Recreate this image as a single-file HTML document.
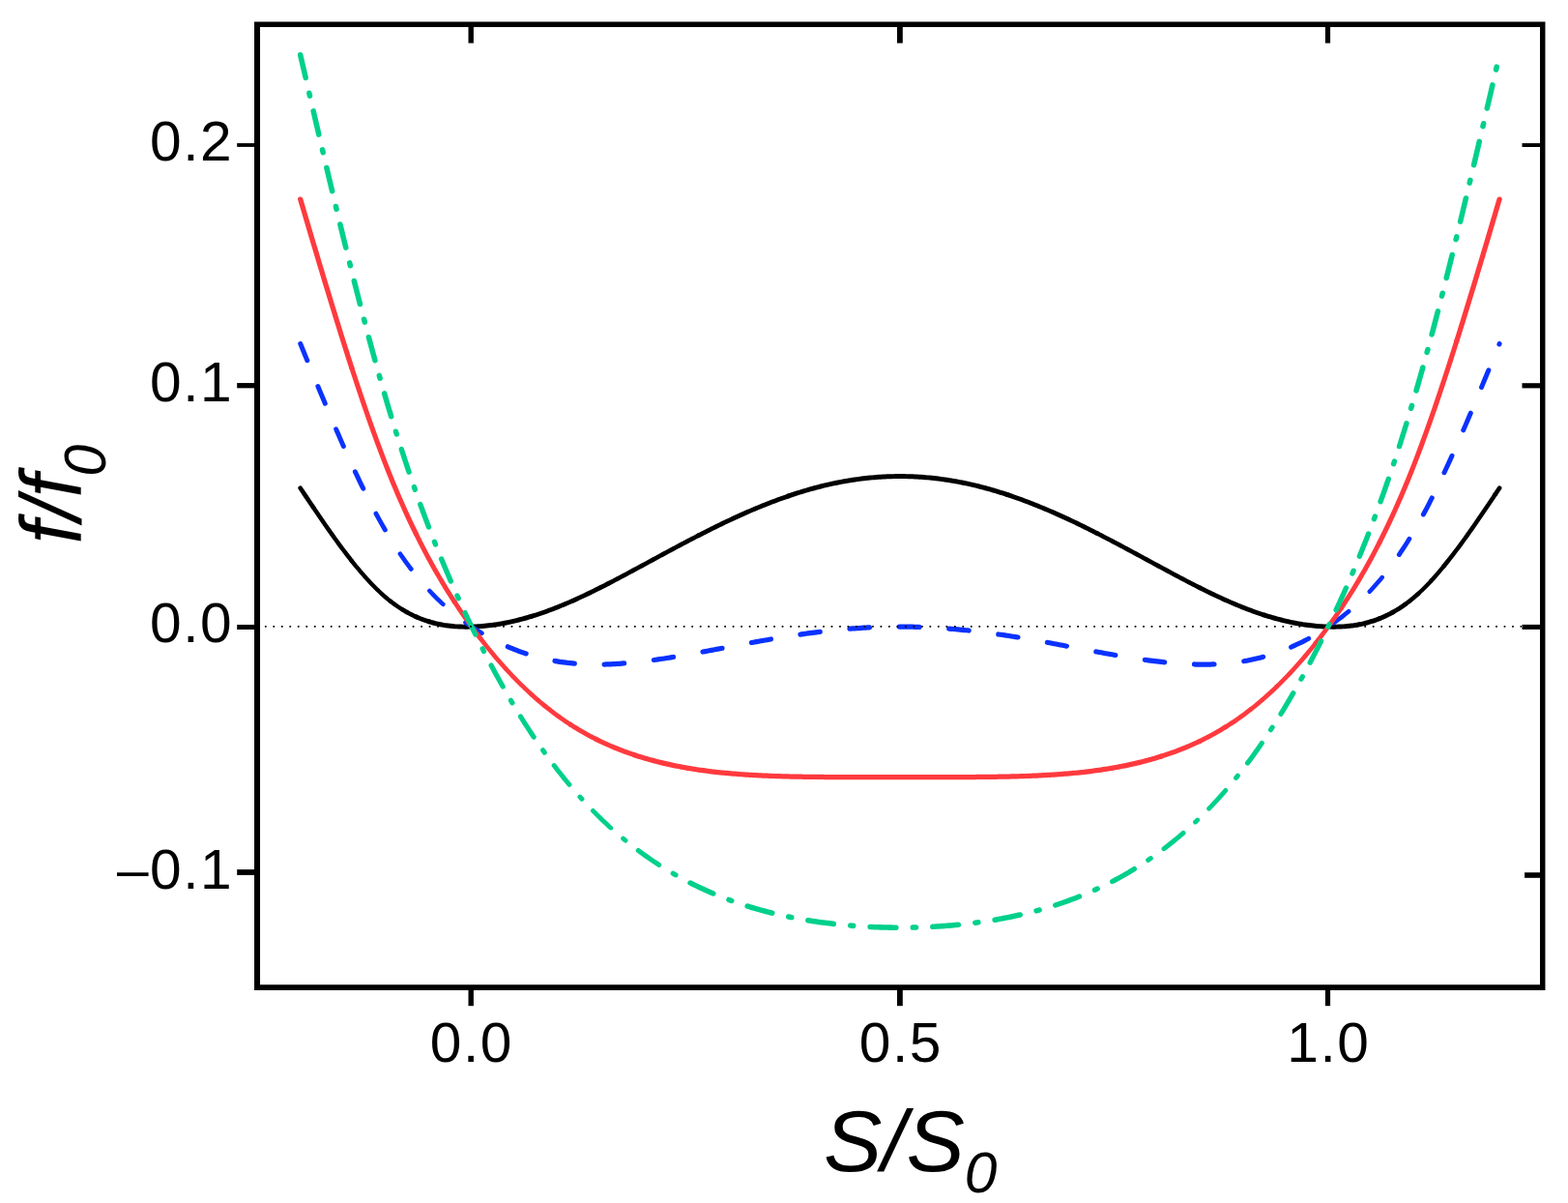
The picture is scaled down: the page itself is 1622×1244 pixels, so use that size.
<!DOCTYPE html>
<html lang="en"><head><meta charset="utf-8"><title>f/f0 versus S/S0</title>
<style>
html,body{margin:0;padding:0;background:#fff;}
body{width:1622px;height:1244px;overflow:hidden;}
svg{display:block;}
text{font-family:"Liberation Sans",Arial,Helvetica,sans-serif;fill:#000;}
.tk{font-size:57.50px;letter-spacing:1.50px;}
.lab{font-style:italic;}
</style></head><body>
<svg width="1622" height="1244" viewBox="0 0 1622 1244" role="img" aria-label="f/f0 versus S/S0">
<rect x="0" y="0" width="1622" height="1244" fill="#fff"/>
<g fill="none" stroke="#000" stroke-linecap="round" stroke-linejoin="round">
<path stroke-width="4.20" d="M1466.93 614.09 L1469.14 612.04 L1471.36 609.93 L1473.58 607.75 L1475.79 605.50 L1478.01 603.20 L1480.22 600.84"/>
<path stroke-width="4.35" d="M363.86 580.02 L366.07 582.79 L368.29 585.52 L370.50 588.20 L372.72 590.83 L374.93 593.41 L377.15 595.94 M377.15 595.94 L379.36 598.42 L381.58 600.84 L383.79 603.20 L386.01 605.50 L388.22 607.75 L390.44 609.93 M390.44 609.93 L392.65 612.04 L394.87 614.09 L397.08 616.07 L399.30 617.99 L401.51 619.83 L403.73 621.60 M1480.22 600.84 L1482.43 598.42 L1484.65 595.94 L1486.87 593.41 L1489.08 590.83 L1491.30 588.20 L1493.51 585.52"/>
<path stroke-width="4.50" d="M323.99 524.53 L326.20 527.80 L328.42 531.06 L330.63 534.30 L332.85 537.53 L335.06 540.74 L337.28 543.93 M337.28 543.93 L339.50 547.10 L341.71 550.24 L343.92 553.36 L346.14 556.46 L348.36 559.52 L350.57 562.55 M350.57 562.55 L352.78 565.56 L355.00 568.52 L357.21 571.46 L359.43 574.35 L361.64 577.21 L363.86 580.02 M403.73 621.60 L405.94 623.30 L408.16 624.93 L410.38 626.50 L412.59 628.00 L414.80 629.43 L417.02 630.81 M1453.64 624.93 L1455.86 623.30 L1458.07 621.60 L1460.29 619.83 L1462.50 617.99 L1464.72 616.07 L1466.93 614.09 M1493.51 585.52 L1495.73 582.79 L1497.94 580.02 L1500.16 577.21 L1502.37 574.35 L1504.59 571.46 L1506.80 568.52 M1506.80 568.52 L1509.02 565.56 L1511.23 562.55 L1513.45 559.52 L1515.66 556.46 L1517.88 553.36 L1520.09 550.24 M1520.09 550.24 L1522.30 547.10 L1524.52 543.93 L1526.74 540.74 L1528.95 537.53 L1531.16 534.30 L1533.38 531.06 M1533.38 531.06 L1535.60 527.80 L1537.81 524.53 L1540.03 521.25 L1542.24 517.96 L1544.45 514.66 L1546.67 511.36"/>
<path stroke-width="4.65" d="M310.70 504.75 L312.91 508.05 L315.13 511.36 L317.34 514.66 L319.56 517.96 L321.77 521.25 L323.99 524.53 M417.02 630.81 L419.23 632.12 L421.45 633.36 L423.66 634.55 L425.88 635.68 L428.09 636.75 L430.31 637.77 M629.66 603.25 L631.88 602.10 L634.09 600.95 L636.30 599.79 L638.52 598.63 L640.73 597.46 L642.95 596.29 M642.95 596.29 L645.16 595.11 L647.38 593.93 L649.60 592.75 L651.81 591.56 L654.02 590.37 L656.24 589.17 M656.24 589.17 L658.45 587.98 L660.67 586.78 L662.88 585.59 L665.10 584.39 L667.32 583.19 L669.53 581.99 M669.53 581.99 L671.75 580.79 L673.96 579.59 L676.17 578.39 L678.39 577.19 L680.61 575.99 L682.82 574.80 M682.82 574.80 L685.03 573.60 L687.25 572.41 L689.46 571.21 L691.68 570.02 L693.89 568.83 L696.11 567.65 M696.11 567.65 L698.32 566.46 L700.54 565.28 L702.75 564.10 L704.97 562.93 L707.18 561.76 L709.40 560.59 M709.40 560.59 L711.62 559.43 L713.83 558.27 L716.04 557.11 L718.26 555.96 L720.48 554.81 L722.69 553.67 M1134.68 551.41 L1136.89 552.54 L1139.11 553.67 L1141.33 554.81 L1143.54 555.96 L1145.75 557.11 L1147.97 558.27 M1147.97 558.27 L1150.18 559.43 L1152.40 560.59 L1154.61 561.76 L1156.83 562.93 L1159.05 564.10 L1161.26 565.28 M1161.26 565.28 L1163.47 566.46 L1165.69 567.65 L1167.91 568.83 L1170.12 570.02 L1172.34 571.21 L1174.55 572.41 M1174.55 572.41 L1176.77 573.60 L1178.98 574.80 L1181.19 575.99 L1183.41 577.19 L1185.62 578.39 L1187.84 579.59 M1187.84 579.59 L1190.05 580.79 L1192.27 581.99 L1194.49 583.19 L1196.70 584.39 L1198.91 585.59 L1201.13 586.78 M1201.13 586.78 L1203.35 587.98 L1205.56 589.17 L1207.78 590.37 L1209.99 591.56 L1212.20 592.75 L1214.42 593.93 M1214.42 593.93 L1216.63 595.11 L1218.85 596.29 L1221.07 597.46 L1223.28 598.63 L1225.49 599.79 L1227.71 600.95 M1227.71 600.95 L1229.93 602.10 L1232.14 603.25 L1234.36 604.39 L1236.57 605.52 L1238.79 606.65 L1241.00 607.76 M1440.35 633.36 L1442.57 632.12 L1444.78 630.81 L1446.99 629.43 L1449.21 628.00 L1451.43 626.50 L1453.64 624.93 M1546.67 511.36 L1548.88 508.05 L1551.10 504.75"/>
<path stroke-width="4.80" d="M430.31 637.77 L432.52 638.73 L434.74 639.64 L436.95 640.49 L439.17 641.29 L441.38 642.04 L443.60 642.74 M549.92 637.31 L552.13 636.62 L554.35 635.92 L556.56 635.20 L558.78 634.46 L561.00 633.70 L563.21 632.93 M563.21 632.93 L565.42 632.14 L567.64 631.33 L569.85 630.51 L572.07 629.67 L574.28 628.81 L576.50 627.94 M576.50 627.94 L578.71 627.05 L580.93 626.15 L583.14 625.24 L585.36 624.30 L587.57 623.36 L589.79 622.40 M589.79 622.40 L592.00 621.43 L594.22 620.44 L596.43 619.45 L598.65 618.44 L600.87 617.42 L603.08 616.39 M603.08 616.39 L605.29 615.34 L607.51 614.29 L609.73 613.22 L611.94 612.15 L614.15 611.07 L616.37 609.97 M616.37 609.97 L618.59 608.87 L620.80 607.76 L623.01 606.65 L625.23 605.52 L627.44 604.39 L629.66 603.25 M722.69 553.67 L724.90 552.54 L727.12 551.41 L729.34 550.28 L731.55 549.16 L733.76 548.05 L735.98 546.94 M735.98 546.94 L738.19 545.84 L740.41 544.75 L742.62 543.66 L744.84 542.58 L747.05 541.51 L749.27 540.45 M749.27 540.45 L751.48 539.39 L753.70 538.34 L755.91 537.30 L758.13 536.27 L760.35 535.25 L762.56 534.24 M762.56 534.24 L764.77 533.23 L766.99 532.23 L769.20 531.25 L771.42 530.27 L773.63 529.30 L775.85 528.34 M775.85 528.34 L778.06 527.39 L780.28 526.45 L782.49 525.52 L784.71 524.61 L786.92 523.70 L789.14 522.80 M789.14 522.80 L791.36 521.91 L793.57 521.03 L795.78 520.17 L798.00 519.31 L800.21 518.47 L802.43 517.64 M802.43 517.64 L804.64 516.81 L806.86 516.00 L809.08 515.21 L811.29 514.42 L813.50 513.65 L815.72 512.89 M1041.65 511.40 L1043.86 512.14 L1046.08 512.89 L1048.30 513.65 L1050.51 514.42 L1052.72 515.21 L1054.94 516.00 M1054.94 516.00 L1057.16 516.81 L1059.37 517.64 L1061.59 518.47 L1063.80 519.31 L1066.02 520.17 L1068.23 521.03 M1068.23 521.03 L1070.44 521.91 L1072.66 522.80 L1074.88 523.70 L1077.09 524.61 L1079.30 525.52 L1081.52 526.45 M1081.52 526.45 L1083.74 527.39 L1085.95 528.34 L1088.16 529.30 L1090.38 530.27 L1092.60 531.25 L1094.81 532.23 M1094.81 532.23 L1097.03 533.23 L1099.24 534.24 L1101.45 535.25 L1103.67 536.27 L1105.88 537.30 L1108.10 538.34 M1108.10 538.34 L1110.32 539.39 L1112.53 540.45 L1114.74 541.51 L1116.96 542.58 L1119.17 543.66 L1121.39 544.75 M1121.39 544.75 L1123.61 545.84 L1125.82 546.94 L1128.03 548.05 L1130.25 549.16 L1132.47 550.28 L1134.68 551.41 M1241.00 607.76 L1243.22 608.87 L1245.43 609.97 L1247.64 611.07 L1249.86 612.15 L1252.08 613.22 L1254.29 614.29 M1254.29 614.29 L1256.51 615.34 L1258.72 616.39 L1260.93 617.42 L1263.15 618.44 L1265.37 619.45 L1267.58 620.44 M1267.58 620.44 L1269.80 621.43 L1272.01 622.40 L1274.23 623.36 L1276.44 624.30 L1278.66 625.24 L1280.87 626.15 M1280.87 626.15 L1283.09 627.05 L1285.30 627.94 L1287.52 628.81 L1289.73 629.67 L1291.94 630.51 L1294.16 631.33 M1294.16 631.33 L1296.38 632.14 L1298.59 632.93 L1300.80 633.70 L1303.02 634.46 L1305.24 635.20 L1307.45 635.92 M1427.06 639.64 L1429.28 638.73 L1431.49 637.77 L1433.70 636.75 L1435.92 635.68 L1438.13 634.55 L1440.35 633.36"/>
<path stroke-width="4.95" d="M443.60 642.74 L445.81 643.39 L448.03 643.99 L450.24 644.55 L452.46 645.07 L454.67 645.54 L456.89 645.96 M456.89 645.96 L459.10 646.35 L461.32 646.69 L463.53 647.00 L465.75 647.27 L467.96 647.50 L470.18 647.69 M470.18 647.69 L472.39 647.85 L474.61 647.98 L476.82 648.07 L479.04 648.14 L481.25 648.17 L483.47 648.17 M483.47 648.17 L485.69 648.15 L487.90 648.10 L490.11 648.02 L492.33 647.92 L494.54 647.80 L496.76 647.65 M496.76 647.65 L498.97 647.47 L501.19 647.28 L503.40 647.05 L505.62 646.81 L507.83 646.54 L510.05 646.25 M510.05 646.25 L512.26 645.93 L514.48 645.59 L516.69 645.23 L518.91 644.85 L521.12 644.45 L523.34 644.02 M523.34 644.02 L525.55 643.57 L527.77 643.10 L529.99 642.61 L532.20 642.10 L534.41 641.57 L536.63 641.02 M536.63 641.02 L538.85 640.45 L541.06 639.86 L543.27 639.25 L545.49 638.62 L547.70 637.97 L549.92 637.31 M815.72 512.89 L817.93 512.14 L820.15 511.40 L822.37 510.67 L824.58 509.96 L826.79 509.26 L829.01 508.58 M829.01 508.58 L831.22 507.91 L833.44 507.25 L835.65 506.60 L837.87 505.97 L840.09 505.35 L842.30 504.75 M842.30 504.75 L844.51 504.15 L846.73 503.58 L848.94 503.02 L851.16 502.47 L853.38 501.93 L855.59 501.41 M855.59 501.41 L857.81 500.91 L860.02 500.42 L862.24 499.94 L864.45 499.48 L866.66 499.03 L868.88 498.60 M868.88 498.60 L871.10 498.18 L873.31 497.77 L875.53 497.38 L877.74 497.01 L879.95 496.65 L882.17 496.31 M882.17 496.31 L884.38 495.97 L886.60 495.66 L888.81 495.36 L891.03 495.07 L893.24 494.80 L895.46 494.55 M895.46 494.55 L897.67 494.31 L899.89 494.08 L902.11 493.87 L904.32 493.68 L906.53 493.50 L908.75 493.33 M908.75 493.33 L910.96 493.19 L913.18 493.05 L915.39 492.94 L917.61 492.83 L919.83 492.75 L922.04 492.68 M922.04 492.68 L924.25 492.62 L926.47 492.58 L928.68 492.56 L930.90 492.55 L933.12 492.56 L935.33 492.58 M935.33 492.58 L937.55 492.62 L939.76 492.68 L941.97 492.75 L944.19 492.83 L946.40 492.94 L948.62 493.05 M948.62 493.05 L950.83 493.19 L953.05 493.33 L955.27 493.50 L957.48 493.68 L959.69 493.87 L961.91 494.08 M961.91 494.08 L964.12 494.31 L966.34 494.55 L968.55 494.80 L970.77 495.07 L972.99 495.36 L975.20 495.66 M975.20 495.66 L977.41 495.97 L979.63 496.31 L981.85 496.65 L984.06 497.01 L986.27 497.38 L988.49 497.77 M988.49 497.77 L990.71 498.18 L992.92 498.60 L995.13 499.03 L997.35 499.48 L999.56 499.94 L1001.78 500.42 M1001.78 500.42 L1004.00 500.91 L1006.21 501.41 L1008.42 501.93 L1010.64 502.47 L1012.86 503.02 L1015.07 503.58 M1015.07 503.58 L1017.28 504.15 L1019.50 504.75 L1021.72 505.35 L1023.93 505.97 L1026.14 506.60 L1028.36 507.25 M1028.36 507.25 L1030.58 507.91 L1032.79 508.58 L1035.00 509.26 L1037.22 509.96 L1039.43 510.67 L1041.65 511.40 M1307.45 635.92 L1309.66 636.62 L1311.88 637.31 L1314.10 637.97 L1316.31 638.62 L1318.53 639.25 L1320.74 639.86 M1320.74 639.86 L1322.95 640.45 L1325.17 641.02 L1327.38 641.57 L1329.60 642.10 L1331.82 642.61 L1334.03 643.10 M1334.03 643.10 L1336.24 643.57 L1338.46 644.02 L1340.68 644.45 L1342.89 644.85 L1345.11 645.23 L1347.32 645.59 M1347.32 645.59 L1349.54 645.93 L1351.75 646.25 L1353.97 646.54 L1356.18 646.81 L1358.39 647.05 L1360.61 647.28 M1360.61 647.28 L1362.83 647.47 L1365.04 647.65 L1367.26 647.80 L1369.47 647.92 L1371.68 648.02 L1373.90 648.10 M1373.90 648.10 L1376.12 648.15 L1378.33 648.17 L1380.55 648.17 L1382.76 648.14 L1384.98 648.07 L1387.19 647.98 M1387.19 647.98 L1389.41 647.85 L1391.62 647.69 L1393.84 647.50 L1396.05 647.27 L1398.27 647.00 L1400.48 646.69 M1400.48 646.69 L1402.69 646.35 L1404.91 645.96 L1407.12 645.54 L1409.34 645.07 L1411.55 644.55 L1413.77 643.99 M1413.77 643.99 L1415.99 643.39 L1418.20 642.74 L1420.41 642.04 L1422.63 641.29 L1424.85 640.49 L1427.06 639.64"/>
</g>
<g fill="none" stroke="#0a32ff" stroke-linecap="round" stroke-linejoin="round">
<path stroke-width="4.50" d="M444.34 611.01 L445.81 612.58 L448.03 614.88 L450.24 617.12 L452.46 619.31 L454.67 621.45 L456.89 623.54 L458.35 624.89 M1416.74 611.78 L1418.20 610.23 L1420.41 607.81 L1422.63 605.35 L1424.85 602.82 L1427.06 600.23 L1429.28 597.58 L1429.70 597.06"/>
<path stroke-width="4.65" d="M413.92 572.68 L414.80 573.99 L417.02 577.18 L419.23 580.30 L421.45 583.35 L423.66 586.33 L425.30 588.48 M1379.33 644.35 L1380.55 643.49 L1382.76 641.88 L1384.98 640.24 L1387.19 638.55 L1389.41 636.83 L1391.62 635.06 L1393.84 633.25 L1395.10 632.20"/>
<path stroke-width="4.80" d="M388.95 531.07 L390.44 533.84 L392.65 537.88 L394.87 541.85 L397.08 545.74 L398.37 547.95 M481.59 643.73 L483.47 645.06 L485.69 646.60 L487.90 648.10 L490.11 649.57 L492.33 651.01 L494.54 652.41 L496.76 653.79 L498.32 654.73 M1447.30 573.54 L1449.21 570.72 L1451.43 567.39 L1453.64 563.97 L1455.86 560.48 L1457.86 557.25"/>
<path stroke-width="4.95" d="M310.70 355.42 L312.91 360.81 L315.13 366.21 L317.34 371.60 L317.84 372.80 M328.89 399.53 L330.63 403.74 L332.85 409.04 L335.06 414.32 L336.30 417.25 M347.66 443.87 L348.36 445.48 L350.57 450.57 L352.78 455.62 L355.00 460.63 L355.38 461.47 M367.39 487.84 L368.29 489.75 L370.50 494.43 L372.72 499.06 L374.93 503.63 L375.71 505.21 M1335.55 669.15 L1336.24 668.85 L1338.46 667.87 L1340.68 666.86 L1342.89 665.82 L1345.11 664.75 L1347.32 663.66 L1349.54 662.53 L1351.75 661.37 L1353.71 660.32 M1472.36 531.98 L1473.58 529.73 L1475.79 525.55 L1478.01 521.29 L1480.22 516.97 L1481.28 514.87 M1493.97 488.77 L1495.73 485.02 L1497.94 480.23 L1500.16 475.40 L1502.02 471.30 M1513.74 444.81 L1515.66 440.37 L1517.88 435.21 L1520.09 430.03 L1521.31 427.16 M1532.52 400.48 L1533.38 398.41 L1535.60 393.07 L1537.81 387.72 L1539.87 382.74 M1550.86 355.99 L1551.10 355.42"/>
<path stroke-width="5.10" d="M525.26 668.72 L525.55 668.85 L527.77 669.80 L529.99 670.72 L532.20 671.62 L534.41 672.48 L536.63 673.32 L538.85 674.13 L541.06 674.92 L543.27 675.67 L544.21 675.98 M676.35 682.48 L678.39 682.20 L680.61 681.88 L682.82 681.56 L685.03 681.23 L687.25 680.90 L689.46 680.56 L691.68 680.21 L693.89 679.86 L696.11 679.50 L696.60 679.42 M726.96 674.07 L727.12 674.04 L729.34 673.63 L731.55 673.21 L733.76 672.80 L735.98 672.38 L738.19 671.96 L740.41 671.54 L742.62 671.12 L744.84 670.69 L747.05 670.27 L747.07 670.27 M777.36 664.56 L778.06 664.43 L780.28 664.02 L782.49 663.62 L784.71 663.22 L786.92 662.82 L789.14 662.42 L791.36 662.03 L793.57 661.64 L795.78 661.25 L797.50 660.95 M1032.76 655.90 L1032.79 655.90 L1035.00 656.22 L1037.22 656.55 L1039.43 656.89 L1041.65 657.23 L1043.86 657.57 L1046.08 657.92 L1048.30 658.27 L1050.51 658.63 L1052.72 658.99 L1053.00 659.04 M1083.37 664.36 L1083.74 664.43 L1085.95 664.84 L1088.16 665.25 L1090.38 665.66 L1092.60 666.07 L1094.81 666.49 L1097.03 666.91 L1099.24 667.32 L1101.45 667.74 L1103.48 668.13 M1133.76 673.87 L1134.68 674.04 L1136.89 674.45 L1139.11 674.86 L1141.33 675.27 L1143.54 675.67 L1145.75 676.07 L1147.97 676.47 L1150.18 676.86 L1152.40 677.25 L1153.90 677.51 M1286.72 683.70 L1287.52 683.56 L1289.73 683.16 L1291.94 682.73 L1294.16 682.28 L1296.38 681.81 L1298.59 681.31 L1300.80 680.78 L1303.02 680.24 L1305.24 679.66 L1306.67 679.27"/>
<path stroke-width="5.25" d="M574.00 683.51 L574.28 683.56 L576.50 683.94 L578.71 684.29 L580.93 684.63 L583.14 684.94 L585.36 685.22 L587.57 685.49 L589.79 685.73 L592.00 685.96 L594.22 686.16 L594.31 686.17 M625.18 687.02 L625.23 687.02 L627.44 686.96 L629.66 686.88 L631.88 686.79 L634.09 686.68 L636.30 686.56 L638.52 686.43 L640.73 686.28 L642.95 686.12 L645.16 685.95 L645.67 685.91 M827.96 656.05 L829.01 655.90 L831.22 655.58 L833.44 655.27 L835.65 654.96 L837.87 654.66 L840.09 654.36 L842.30 654.07 L844.51 653.79 L846.73 653.51 L848.26 653.33 M878.99 650.22 L879.95 650.14 L882.17 649.97 L884.38 649.81 L886.60 649.65 L888.81 649.51 L891.03 649.36 L893.24 649.23 L895.46 649.10 L897.67 648.98 L899.46 648.89 M930.35 648.10 L930.90 648.10 L933.12 648.10 L935.33 648.12 L937.55 648.14 L939.76 648.16 L941.97 648.20 L944.19 648.24 L946.40 648.30 L948.62 648.35 L950.83 648.42 L950.87 648.42 M981.72 650.13 L981.85 650.14 L984.06 650.32 L986.27 650.50 L988.49 650.70 L990.71 650.89 L992.92 651.10 L995.13 651.31 L997.35 651.53 L999.56 651.75 L1001.78 651.98 L1002.14 652.02 M1184.36 682.33 L1185.62 682.51 L1187.84 682.81 L1190.05 683.10 L1192.27 683.39 L1194.49 683.67 L1196.70 683.94 L1198.91 684.20 L1201.13 684.45 L1203.35 684.70 L1204.70 684.84 M1235.52 686.99 L1236.57 687.02 L1238.79 687.07 L1241.00 687.10 L1243.22 687.12 L1245.43 687.12 L1247.64 687.11 L1249.86 687.07 L1252.08 687.02 L1254.29 686.96 L1256.03 686.89"/>
</g>
<g fill="none" stroke="#ff3a3e" stroke-linecap="round" stroke-linejoin="round">
<path stroke-width="4.50" d="M523.34 691.72 L525.55 694.12 L527.77 696.50 L529.99 698.83 L532.20 701.13 L534.41 703.39 L536.63 705.62 M536.63 705.62 L538.85 707.82 L541.06 709.97 L543.27 712.10 L545.49 714.19 L547.70 716.24 L549.92 718.26 M1320.74 709.97 L1322.95 707.82 L1325.17 705.62 L1327.38 703.39 L1329.60 701.13 L1331.82 698.83 L1334.03 696.50"/>
<path stroke-width="4.65" d="M496.76 659.93 L498.97 662.78 L501.19 665.60 L503.40 668.38 L505.62 671.13 L507.83 673.83 L510.05 676.50 M510.05 676.50 L512.26 679.13 L514.48 681.72 L516.69 684.27 L518.91 686.79 L521.12 689.27 L523.34 691.72 M549.92 718.26 L552.13 720.25 L554.35 722.21 L556.56 724.13 L558.78 726.01 L561.00 727.87 L563.21 729.69 M1294.16 733.23 L1296.38 731.48 L1298.59 729.69 L1300.80 727.87 L1303.02 726.01 L1305.24 724.13 L1307.45 722.21 M1307.45 722.21 L1309.66 720.25 L1311.88 718.26 L1314.10 716.24 L1316.31 714.19 L1318.53 712.10 L1320.74 709.97 M1334.03 696.50 L1336.24 694.12 L1338.46 691.72 L1340.68 689.27 L1342.89 686.79 L1345.11 684.27 L1347.32 681.72 M1347.32 681.72 L1349.54 679.13 L1351.75 676.50 L1353.97 673.83 L1356.18 671.13 L1358.39 668.38 L1360.61 665.60"/>
<path stroke-width="4.80" d="M470.18 622.43 L472.39 625.80 L474.61 629.12 L476.82 632.40 L479.04 635.63 L481.25 638.81 L483.47 641.95 M483.47 641.95 L485.69 645.04 L487.90 648.10 L490.11 651.12 L492.33 654.09 L494.54 657.03 L496.76 659.93 M563.21 729.69 L565.42 731.48 L567.64 733.23 L569.85 734.96 L572.07 736.65 L574.28 738.31 L576.50 739.94 M576.50 739.94 L578.71 741.53 L580.93 743.10 L583.14 744.64 L585.36 746.14 L587.57 747.62 L589.79 749.07 M1267.58 751.87 L1269.80 750.48 L1272.01 749.07 L1274.23 747.62 L1276.44 746.14 L1278.66 744.64 L1280.87 743.10 M1280.87 743.10 L1283.09 741.53 L1285.30 739.94 L1287.52 738.31 L1289.73 736.65 L1291.94 734.96 L1294.16 733.23 M1360.61 665.60 L1362.83 662.78 L1365.04 659.93 L1367.26 657.03 L1369.47 654.09 L1371.68 651.12 L1373.90 648.10 M1373.90 648.10 L1376.12 645.04 L1378.33 641.95 L1380.55 638.81 L1382.76 635.63 L1384.98 632.40 L1387.19 629.12"/>
<path stroke-width="4.95" d="M430.31 551.95 L432.52 556.42 L434.74 560.82 L436.95 565.14 L439.17 569.40 L441.38 573.59 L443.60 577.71 M443.60 577.71 L445.81 581.77 L448.03 585.76 L450.24 589.69 L452.46 593.56 L454.67 597.37 L456.89 601.11 M456.89 601.11 L459.10 604.80 L461.32 608.44 L463.53 612.02 L465.75 615.54 L467.96 619.01 L470.18 622.43 M589.79 749.07 L592.00 750.48 L594.22 751.87 L596.43 753.23 L598.65 754.57 L600.87 755.87 L603.08 757.15 M603.08 757.15 L605.29 758.40 L607.51 759.63 L609.73 760.83 L611.94 762.00 L614.15 763.15 L616.37 764.27 M1241.00 766.45 L1243.22 765.37 L1245.43 764.27 L1247.64 763.15 L1249.86 762.00 L1252.08 760.83 L1254.29 759.63 M1254.29 759.63 L1256.51 758.40 L1258.72 757.15 L1260.93 755.87 L1263.15 754.57 L1265.37 753.23 L1267.58 751.87 M1387.19 629.12 L1389.41 625.80 L1391.62 622.43 L1393.84 619.01 L1396.05 615.54 L1398.27 612.02 L1400.48 608.44 M1400.48 608.44 L1402.69 604.80 L1404.91 601.11 L1407.12 597.37 L1409.34 593.56 L1411.55 589.69 L1413.77 585.76 M1413.77 585.76 L1415.99 581.77 L1418.20 577.71 L1420.41 573.59 L1422.63 569.40 L1424.85 565.14 L1427.06 560.82"/>
<path stroke-width="5.10" d="M363.86 380.45 L366.07 387.25 L368.29 393.99 L370.50 400.67 L372.72 407.29 L374.93 413.85 L377.15 420.34 M377.15 420.34 L379.36 426.76 L381.58 433.11 L383.79 439.39 L386.01 445.59 L388.22 451.72 L390.44 457.76 M390.44 457.76 L392.65 463.73 L394.87 469.61 L397.08 475.40 L399.30 481.10 L401.51 486.71 L403.73 492.24 M403.73 492.24 L405.94 497.67 L408.16 503.02 L410.38 508.28 L412.59 513.45 L414.80 518.54 L417.02 523.55 M417.02 523.55 L419.23 528.48 L421.45 533.33 L423.66 538.10 L425.88 542.79 L428.09 547.41 L430.31 551.95 M616.37 764.27 L618.59 765.37 L620.80 766.45 L623.01 767.50 L625.23 768.53 L627.44 769.53 L629.66 770.51 M629.66 770.51 L631.88 771.48 L634.09 772.41 L636.30 773.33 L638.52 774.23 L640.73 775.10 L642.95 775.96 M642.95 775.96 L645.16 776.80 L647.38 777.61 L649.60 778.41 L651.81 779.19 L654.02 779.95 L656.24 780.69 M1201.13 782.13 L1203.35 781.42 L1205.56 780.69 L1207.78 779.95 L1209.99 779.19 L1212.20 778.41 L1214.42 777.61 M1214.42 777.61 L1216.63 776.80 L1218.85 775.96 L1221.07 775.10 L1223.28 774.23 L1225.49 773.33 L1227.71 772.41 M1227.71 772.41 L1229.93 771.48 L1232.14 770.51 L1234.36 769.53 L1236.57 768.53 L1238.79 767.50 L1241.00 766.45 M1427.06 560.82 L1429.28 556.42 L1431.49 551.95 L1433.70 547.41 L1435.92 542.79 L1438.13 538.10 L1440.35 533.33 M1440.35 533.33 L1442.57 528.48 L1444.78 523.55 L1446.99 518.54 L1449.21 513.45 L1451.43 508.28 L1453.64 503.02 M1453.64 503.02 L1455.86 497.67 L1458.07 492.24 L1460.29 486.71 L1462.50 481.10 L1464.72 475.40 L1466.93 469.61 M1466.93 469.61 L1469.14 463.73 L1471.36 457.76 L1473.58 451.72 L1475.79 445.59 L1478.01 439.39 L1480.22 433.11 M1480.22 433.11 L1482.43 426.76 L1484.65 420.34 L1486.87 413.85 L1489.08 407.29 L1491.30 400.67 L1493.51 393.99 M1493.51 393.99 L1495.73 387.25 L1497.94 380.45 L1500.16 373.59 L1502.37 366.69 L1504.59 359.73 L1506.80 352.73"/>
<path stroke-width="5.25" d="M310.70 206.09 L312.91 213.57 L315.13 221.05 L317.34 228.53 L319.56 236.00 L321.77 243.46 L323.99 250.91 M323.99 250.91 L326.20 258.35 L328.42 265.77 L330.63 273.17 L332.85 280.55 L335.06 287.91 L337.28 295.24 M337.28 295.24 L339.50 302.55 L341.71 309.82 L343.92 317.07 L346.14 324.28 L348.36 331.45 L350.57 338.58 M350.57 338.58 L352.78 345.68 L355.00 352.73 L357.21 359.73 L359.43 366.69 L361.64 373.59 L363.86 380.45 M656.24 780.69 L658.45 781.42 L660.67 782.13 L662.88 782.82 L665.10 783.49 L667.32 784.15 L669.53 784.79 M669.53 784.79 L671.75 785.42 L673.96 786.03 L676.17 786.63 L678.39 787.21 L680.61 787.78 L682.82 788.33 M682.82 788.33 L685.03 788.87 L687.25 789.39 L689.46 789.90 L691.68 790.40 L693.89 790.88 L696.11 791.35 M696.11 791.35 L698.32 791.81 L700.54 792.25 L702.75 792.69 L704.97 793.11 L707.18 793.51 L709.40 793.91 M709.40 793.91 L711.62 794.29 L713.83 794.67 L716.04 795.03 L718.26 795.38 L720.48 795.72 L722.69 796.05 M722.69 796.05 L724.90 796.37 L727.12 796.67 L729.34 796.97 L731.55 797.26 L733.76 797.54 L735.98 797.81 M735.98 797.81 L738.19 798.07 L740.41 798.33 L742.62 798.57 L744.84 798.81 L747.05 799.03 L749.27 799.25 M749.27 799.25 L751.48 799.46 L753.70 799.67 L755.91 799.86 L758.13 800.05 L760.35 800.24 L762.56 800.41 M762.56 800.41 L764.77 800.58 L766.99 800.75 L769.20 800.90 L771.42 801.05 L773.63 801.20 L775.85 801.33 M775.85 801.33 L778.06 801.47 L780.28 801.59 L782.49 801.71 L784.71 801.83 L786.92 801.94 L789.14 802.04 M789.14 802.04 L791.36 802.14 L793.57 802.24 L795.78 802.33 L798.00 802.41 L800.21 802.50 L802.43 802.57 M802.43 802.57 L804.64 802.65 L806.86 802.72 L809.08 802.78 L811.29 802.84 L813.50 802.90 L815.72 802.96 M815.72 802.96 L817.93 803.01 L820.15 803.06 L822.37 803.10 L824.58 803.14 L826.79 803.18 L829.01 803.22 M829.01 803.22 L831.22 803.26 L833.44 803.29 L835.65 803.32 L837.87 803.35 L840.09 803.38 L842.30 803.40 M842.30 803.40 L844.51 803.42 L846.73 803.45 L848.94 803.47 L851.16 803.49 L853.38 803.51 L855.59 803.52 M855.59 803.52 L857.81 803.54 L860.02 803.55 L862.24 803.57 L864.45 803.58 L866.66 803.59 L868.88 803.60 M868.88 803.60 L871.10 803.61 L873.31 803.62 L875.53 803.62 L877.74 803.63 L879.95 803.64 L882.17 803.64 M882.17 803.64 L884.38 803.64 L886.60 803.65 L888.81 803.65 L891.03 803.65 L893.24 803.66 L895.46 803.66 M895.46 803.66 L897.67 803.66 L899.89 803.66 L902.11 803.66 L904.32 803.66 L906.53 803.66 L908.75 803.66 M908.75 803.66 L910.96 803.66 L913.18 803.66 L915.39 803.65 L917.61 803.65 L919.83 803.65 L922.04 803.65 M922.04 803.65 L924.25 803.65 L926.47 803.65 L928.68 803.65 L930.90 803.65 L933.12 803.65 L935.33 803.65 M935.33 803.65 L937.55 803.65 L939.76 803.65 L941.97 803.65 L944.19 803.65 L946.40 803.65 L948.62 803.66 M948.62 803.66 L950.83 803.66 L953.05 803.66 L955.27 803.66 L957.48 803.66 L959.69 803.66 L961.91 803.66 M961.91 803.66 L964.12 803.66 L966.34 803.66 L968.55 803.66 L970.77 803.65 L972.99 803.65 L975.20 803.65 M975.20 803.65 L977.41 803.64 L979.63 803.64 L981.85 803.64 L984.06 803.63 L986.27 803.62 L988.49 803.62 M988.49 803.62 L990.71 803.61 L992.92 803.60 L995.13 803.59 L997.35 803.58 L999.56 803.57 L1001.78 803.55 M1001.78 803.55 L1004.00 803.54 L1006.21 803.52 L1008.42 803.51 L1010.64 803.49 L1012.86 803.47 L1015.07 803.45 M1015.07 803.45 L1017.28 803.42 L1019.50 803.40 L1021.72 803.38 L1023.93 803.35 L1026.14 803.32 L1028.36 803.29 M1028.36 803.29 L1030.58 803.26 L1032.79 803.22 L1035.00 803.18 L1037.22 803.14 L1039.43 803.10 L1041.65 803.06 M1041.65 803.06 L1043.86 803.01 L1046.08 802.96 L1048.30 802.90 L1050.51 802.84 L1052.72 802.78 L1054.94 802.72 M1054.94 802.72 L1057.16 802.65 L1059.37 802.57 L1061.59 802.50 L1063.80 802.41 L1066.02 802.33 L1068.23 802.24 M1068.23 802.24 L1070.44 802.14 L1072.66 802.04 L1074.88 801.94 L1077.09 801.83 L1079.30 801.71 L1081.52 801.59 M1081.52 801.59 L1083.74 801.47 L1085.95 801.33 L1088.16 801.20 L1090.38 801.05 L1092.60 800.90 L1094.81 800.75 M1094.81 800.75 L1097.03 800.58 L1099.24 800.41 L1101.45 800.24 L1103.67 800.05 L1105.88 799.86 L1108.10 799.67 M1108.10 799.67 L1110.32 799.46 L1112.53 799.25 L1114.74 799.03 L1116.96 798.81 L1119.17 798.57 L1121.39 798.33 M1121.39 798.33 L1123.61 798.07 L1125.82 797.81 L1128.03 797.54 L1130.25 797.26 L1132.47 796.97 L1134.68 796.67 M1134.68 796.67 L1136.89 796.37 L1139.11 796.05 L1141.33 795.72 L1143.54 795.38 L1145.75 795.03 L1147.97 794.67 M1147.97 794.67 L1150.18 794.29 L1152.40 793.91 L1154.61 793.51 L1156.83 793.11 L1159.05 792.69 L1161.26 792.25 M1161.26 792.25 L1163.47 791.81 L1165.69 791.35 L1167.91 790.88 L1170.12 790.40 L1172.34 789.90 L1174.55 789.39 M1174.55 789.39 L1176.77 788.87 L1178.98 788.33 L1181.19 787.78 L1183.41 787.21 L1185.62 786.63 L1187.84 786.03 M1187.84 786.03 L1190.05 785.42 L1192.27 784.79 L1194.49 784.15 L1196.70 783.49 L1198.91 782.82 L1201.13 782.13 M1506.80 352.73 L1509.02 345.68 L1511.23 338.58 L1513.45 331.45 L1515.66 324.28 L1517.88 317.07 L1520.09 309.82 M1520.09 309.82 L1522.30 302.55 L1524.52 295.24 L1526.74 287.91 L1528.95 280.55 L1531.16 273.17 L1533.38 265.77 M1533.38 265.77 L1535.60 258.35 L1537.81 250.91 L1540.03 243.46 L1542.24 236.00 L1544.45 228.53 L1546.67 221.05 M1546.67 221.05 L1548.88 213.57 L1551.10 206.09"/>
</g>
<g fill="none" stroke="#00d08c" stroke-linecap="round" stroke-linejoin="round">
<path stroke-width="4.80" d="M613.37 838.39 L614.15 839.19 L616.37 841.42 L618.59 843.62 L620.80 845.79 L623.01 847.92 L625.23 850.03 L627.44 852.10 L629.66 854.15 L631.88 856.16 L631.88 856.17 M1236.54 850.05 L1236.57 850.03 L1238.73 847.98 M1250.60 836.16 L1252.08 834.63 L1254.29 832.30 L1256.51 829.93 L1258.72 827.53 L1260.93 825.10 L1263.15 822.63 L1265.37 820.13 L1267.58 817.59 L1267.83 817.30"/>
<path stroke-width="4.95" d="M573.11 791.50 L574.28 793.06 L576.50 795.93 L578.71 798.77 L580.93 801.58 L583.14 804.34 L585.36 807.06 L587.57 809.75 L588.94 811.38 M599.89 824.01 L600.87 825.10 L601.90 826.24 M644.67 867.22 L645.16 867.64 L647.01 869.15 M1203.98 877.65 L1205.56 876.45 L1207.78 874.74 L1209.99 873.00 L1212.20 871.24 L1214.42 869.45 L1216.63 867.64 L1218.85 865.80 L1221.07 863.93 L1223.28 862.03 L1224.03 861.37 M1278.53 804.49 L1278.66 804.34 L1280.40 802.16"/>
<path stroke-width="5.10" d="M538.47 740.89 L538.85 741.50 L541.06 745.03 L543.27 748.52 L545.49 751.97 L547.70 755.38 L549.92 758.74 L552.13 762.07 L552.15 762.09 M561.56 775.75 L563.21 778.07 L563.28 778.17 M660.34 879.55 L660.67 879.80 L662.88 881.43 L665.10 883.04 L667.32 884.63 L669.53 886.19 L671.75 887.73 L673.96 889.25 L676.17 890.75 L678.39 892.22 L680.61 893.67 L681.68 894.36 M1187.73 889.32 L1187.84 889.25 L1190.05 887.73 L1190.25 887.60 M1290.55 789.04 L1291.94 787.18 L1294.16 784.18 L1296.38 781.14 L1298.59 778.07 L1300.80 774.95 L1303.02 771.79 L1305.24 768.59 L1305.32 768.47 M1314.53 754.70 L1316.15 752.22"/>
<path stroke-width="5.25" d="M480.98 633.54 L481.25 634.13 L483.47 638.84 L485.69 643.49 L487.90 648.10 L490.11 652.66 L491.81 656.12 M499.17 670.82 L500.51 673.44 M508.10 687.97 L510.05 691.63 L512.26 695.73 L514.48 699.78 L516.69 703.80 L518.91 707.76 L520.17 709.99 M528.41 724.28 L529.92 726.82 M696.27 903.30 L698.32 904.48 L698.93 904.83 M1150.64 911.49 L1152.40 910.57 L1154.61 909.39 L1156.83 908.19 L1159.05 906.98 L1161.26 905.74 L1163.47 904.48 L1165.69 903.21 L1167.91 901.91 L1170.12 900.59 L1172.34 899.25 L1173.39 898.60 M1324.95 738.28 L1325.17 737.92 L1327.38 734.31 L1329.60 730.64 L1331.82 726.94 L1334.03 723.19 L1336.24 719.40 L1337.83 716.66 M1345.93 702.30 L1347.32 699.78 L1347.36 699.72 M1355.13 685.27 L1356.18 683.29 L1358.39 679.05 L1360.61 674.77 L1362.83 670.44 L1365.04 666.06 L1366.59 662.97 M1373.84 648.22 L1373.90 648.10 L1375.11 645.57"/>
<path stroke-width="5.40" d="M409.45 446.18 L410.31 448.97 M415.24 464.45 L417.02 469.93 L419.23 476.66 L421.45 483.31 L423.06 488.07 M428.36 503.50 L429.33 506.26 M434.80 521.59 L436.95 527.47 L439.17 533.46 L441.38 539.37 L443.50 544.94 M449.42 560.18 L450.24 562.26 L450.50 562.90 M456.62 578.02 L456.89 578.69 L459.10 584.03 L461.32 589.31 L463.53 594.53 L465.75 599.68 L466.33 601.02 M472.95 616.02 L474.16 618.69 M713.99 912.95 L716.04 913.99 L718.26 915.09 L720.48 916.17 L722.69 917.23 L724.90 918.28 L727.12 919.31 L729.34 920.32 L731.55 921.31 L733.76 922.29 L735.98 923.25 L737.82 924.03 M753.91 930.41 L755.91 931.15 L756.82 931.47 M1091.67 936.03 L1092.60 935.73 L1094.81 935.00 L1097.03 934.26 L1099.24 933.50 L1101.45 932.73 L1103.67 931.95 L1105.88 931.15 L1108.10 930.33 L1110.32 929.50 L1112.53 928.65 L1114.74 927.79 L1116.53 927.08 M1132.43 920.33 L1132.47 920.32 L1134.68 919.31 L1135.24 919.05 M1382.10 630.79 L1382.76 629.37 L1384.98 624.56 L1387.19 619.70 L1389.41 614.78 L1391.62 609.80 L1392.41 608.01 M1398.92 592.97 L1400.07 590.27 M1406.33 575.21 L1407.12 573.28 L1409.34 567.80 L1411.55 562.26 L1413.77 556.64 L1415.56 552.04 M1421.39 536.76 L1422.42 534.02 M1428.02 518.74 L1429.28 515.27 L1431.49 509.04 L1433.70 502.74 L1435.92 496.35 L1436.29 495.26 M1441.52 479.80 L1442.44 477.03 M1447.48 461.57 L1449.21 456.18 L1451.43 449.17 L1453.64 442.06 L1454.93 437.86"/>
<path stroke-width="5.55" d="M310.70 56.76 L312.91 66.33 L315.13 75.90 L316.19 80.47 M319.86 96.31 L320.52 99.15 M324.18 114.93 L326.20 123.62 L328.42 133.12 L329.81 139.07 M333.52 154.90 L334.18 157.74 M337.90 173.51 L339.50 180.27 L341.71 189.61 L343.62 197.63 M347.40 213.45 L348.08 216.28 M351.89 232.03 L352.78 235.74 L355.00 244.83 L357.21 253.87 L357.77 256.12 M361.68 271.91 L362.38 274.74 M366.32 290.46 L368.29 298.22 L370.50 306.91 L372.46 314.50 M376.55 330.25 L377.15 332.54 L377.29 333.07 M381.44 348.74 L381.58 349.25 L383.79 357.49 L386.01 365.64 L387.95 372.70 M392.32 388.38 L392.65 389.57 L393.11 391.19 M397.59 406.79 L399.30 412.66 L401.51 420.16 L403.73 427.56 L404.65 430.60 M773.19 937.00 L773.63 937.14 L775.85 937.83 L778.06 938.50 L780.28 939.16 L782.49 939.81 L784.71 940.44 L786.92 941.06 L789.14 941.67 L791.36 942.26 L793.57 942.84 L795.78 943.41 L798.00 943.97 L798.73 944.14 M815.72 947.99 L815.72 947.99 L817.93 948.44 L818.78 948.61 M835.88 951.72 L837.87 952.04 L840.09 952.39 L842.30 952.73 L844.51 953.06 L846.73 953.38 L848.94 953.69 L851.16 954.00 L853.38 954.29 L855.59 954.58 L857.81 954.85 L860.02 955.12 L862.24 955.38 L862.26 955.38 M879.66 957.10 L879.95 957.13 L882.17 957.31 L882.78 957.36 M900.17 958.46 L902.11 958.55 L904.32 958.65 L906.53 958.74 L908.75 958.82 L910.96 958.89 L913.18 958.96 L915.39 959.01 L917.61 959.06 L919.83 959.11 L922.04 959.14 L924.25 959.17 L926.47 959.18 L926.83 959.19 M944.32 959.06 L946.40 959.01 L947.46 958.99 M964.87 958.29 L966.34 958.21 L968.55 958.08 L970.77 957.94 L972.99 957.80 L975.20 957.64 L977.41 957.48 L979.63 957.31 L981.85 957.13 L984.06 956.94 L986.27 956.74 L988.49 956.54 L990.71 956.32 L991.45 956.25 M1008.81 954.24 L1010.64 954.00 L1011.91 953.82 M1029.11 951.18 L1030.58 950.93 L1032.79 950.54 L1035.00 950.14 L1037.22 949.73 L1039.43 949.31 L1041.65 948.88 L1043.86 948.44 L1046.08 947.99 L1048.30 947.53 L1050.51 947.05 L1052.72 946.57 L1054.94 946.07 L1055.19 946.01 M1072.09 941.82 L1072.66 941.67 L1074.88 941.06 L1075.09 941.00 M1459.66 422.26 L1460.29 420.16 L1460.49 419.46 M1465.05 403.89 L1466.93 397.36 L1469.14 389.57 L1471.36 381.68 L1471.83 380.00 M1476.15 364.30 L1476.92 361.49 M1481.13 345.83 L1482.43 340.93 L1484.65 332.54 L1486.87 324.07 L1487.45 321.83 M1491.51 306.07 L1492.23 303.25 M1496.21 287.54 L1497.94 280.66 L1500.16 271.79 L1502.22 263.47 M1506.10 247.67 L1506.80 244.85 M1510.62 229.10 L1511.23 226.60 L1513.45 217.41 L1515.66 208.19 L1516.42 204.99 M1520.19 189.17 L1520.87 186.34 M1524.60 170.57 L1526.74 161.49 L1528.95 152.06 L1530.27 146.44 M1533.97 130.60 L1534.63 127.77 M1538.30 111.99 L1540.03 104.57 L1542.24 95.02 L1543.90 87.84 M1547.57 72.00 L1548.23 69.17"/>
</g>
<line x1="273.95" y1="647.8" x2="1574" y2="647.8" stroke="#000" stroke-width="1.70" stroke-dasharray="1.700 6.788"/>
<path fill="#000" fill-rule="evenodd" d="M263.03 22.6H1598.47V1023.9H263.03Z M269.03 28.0H1593.03V1018.2H269.03Z"/>
<line x1="487.20" y1="1021.00" x2="487.20" y2="1040.20" stroke="#000" stroke-width="5.40"/>
<line x1="487.20" y1="25.30" x2="487.20" y2="44.60" stroke="#000" stroke-width="5.40"/>
<line x1="930.90" y1="1021.00" x2="930.90" y2="1040.20" stroke="#000" stroke-width="5.80"/>
<line x1="930.90" y1="25.30" x2="930.90" y2="44.60" stroke="#000" stroke-width="5.80"/>
<line x1="1373.50" y1="1021.00" x2="1373.50" y2="1040.20" stroke="#000" stroke-width="5.20"/>
<line x1="1373.50" y1="25.30" x2="1373.50" y2="44.60" stroke="#000" stroke-width="5.20"/>
<line x1="245.20" y1="150.00" x2="266.00" y2="150.00" stroke="#000" stroke-width="3.80"/>
<line x1="245.20" y1="398.70" x2="266.00" y2="398.70" stroke="#000" stroke-width="5.30"/>
<line x1="245.20" y1="648.50" x2="266.00" y2="648.50" stroke="#000" stroke-width="5.00"/>
<line x1="245.20" y1="902.00" x2="266.00" y2="902.00" stroke="#000" stroke-width="5.80"/>
<line x1="1574.50" y1="150.05" x2="1595.75" y2="150.05" stroke="#000" stroke-width="3.90"/>
<line x1="1574.50" y1="398.80" x2="1595.75" y2="398.80" stroke="#000" stroke-width="5.20"/>
<line x1="1574.50" y1="648.40" x2="1595.75" y2="648.40" stroke="#000" stroke-width="5.00"/>
<line x1="1577.10" y1="905.00" x2="1595.75" y2="905.00" stroke="#000" stroke-width="5.60"/>
<text class="tk" text-anchor="end" transform="translate(241.20 166.00) scale(1.0200 1)">0.2</text>
<text class="tk" text-anchor="end" transform="translate(241.20 415.30) scale(1.0200 1)">0.1</text>
<text class="tk" text-anchor="end" transform="translate(241.20 664.30) scale(1.0200 1)">0.0</text>
<text class="tk" text-anchor="end" transform="translate(241.20 919.00) scale(1.0200 1)">–0.1</text>
<text class="tk" text-anchor="middle" transform="translate(487.90 1098.30) scale(1.0200 1)">0.0</text>
<text class="tk" text-anchor="middle" transform="translate(931.90 1098.30) scale(1.0200 1)">0.5</text>
<text class="tk" text-anchor="middle" transform="translate(1374.30 1098.30) scale(1.0200 1)">1.0</text>
<text class="lab" style="font-size:89.00px" transform="translate(852.00 1210.80) scale(1.0165 1)">S/S<tspan style="font-size:59.50px" dx="0.00" dy="22.00">0</tspan></text>
<text class="lab" style="font-size:84.00px" transform="translate(83.50 562.50) rotate(-90) scale(1.0300 1.0700)">f/f<tspan style="font-size:57.00px" dx="-2.00" dy="24.00">0</tspan></text>
</svg></body></html>
